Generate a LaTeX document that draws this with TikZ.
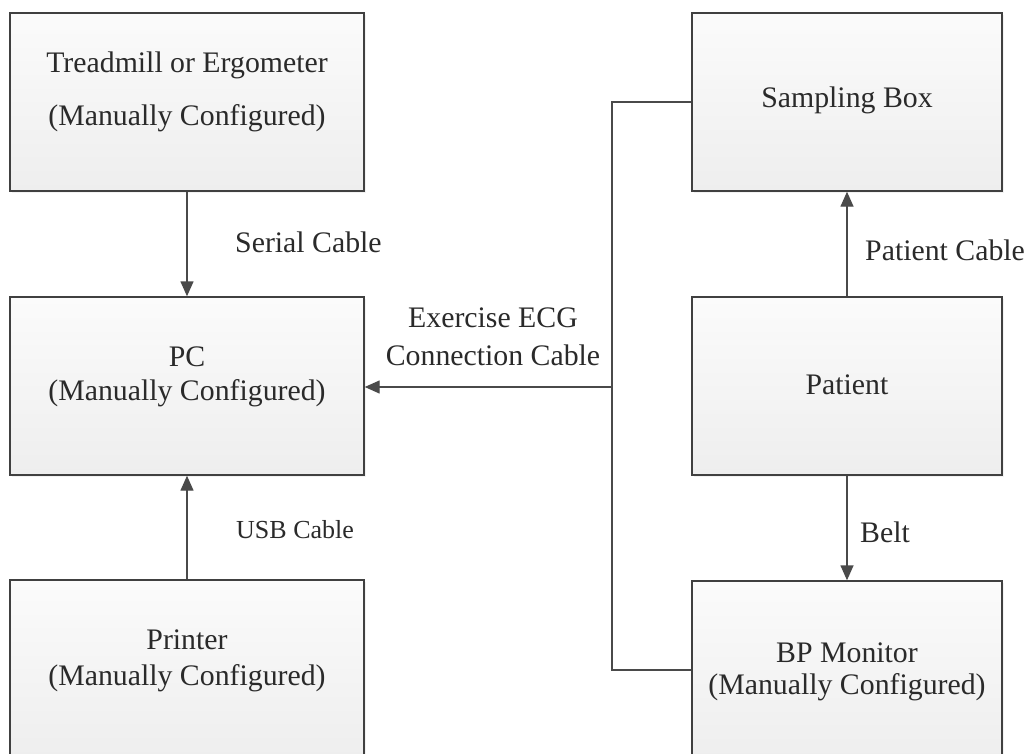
\documentclass[tikz,border=0pt]{standalone}
\usepackage{fontspec}
\setmainfont{Liberation Serif}
\usetikzlibrary{arrows.meta,shadows}
\definecolor{boxline}{HTML}{404040}
\definecolor{linecol}{HTML}{4A4A4A}
\definecolor{boxtop}{HTML}{FBFBFB}
\definecolor{boxbot}{HTML}{EEEEEE}
\definecolor{txtcol}{HTML}{2A2A2A}
\begin{document}
\begin{tikzpicture}[x=1pt,y=-1pt,
  box/.style={draw=boxline, line width=1.4pt, top color=boxtop, bottom color=boxbot,
    minimum width=#1, minimum height=178pt, inner sep=0pt,
    drop shadow={opacity=0.10, shadow xshift=2pt, shadow yshift=-2pt}},
  txt/.style={text=txtcol, font=\fontsize{29.8}{36}\selectfont, align=center, inner sep=0pt},
  smalltxt/.style={text=txtcol, font=\fontsize{26}{31}\selectfont, inner sep=0pt},
  conn/.style={draw=linecol, line width=1.4pt},
  arr/.style={conn, -{Triangle[length=15pt,width=13pt]}}]
\useasboundingbox (0,0) rectangle (1027,754);
\clip (0,0) rectangle (1027,754);

% boxes
\node[box=354pt] (tread) at (187,102) {};
\node[box=354pt] (pc) at (187,386) {};
\node[box=354pt] (printer) at (187,669) {};
\node[box=310pt] (samp) at (847,102) {};
\node[box=310pt] (patient) at (847,386) {};
\node[box=310pt] (bp) at (847,670) {};

% box texts
\node[txt] (treadA) at (187,65) {Treadmill or Ergometer};
\node[txt] (treadB) at (187,118) {(Manually Configured)};
\node[txt] (pcA) at (187,357) {PC};
\node[txt] (pcB) at (187,393) {(Manually Configured)};
\node[txt] (printerA) at (187,640) {Printer};
\node[txt] (printerB) at (187,678) {(Manually Configured)};
\node[txt] (sampA) at (847,100) {Sampling Box};
\node[txt] (patientA) at (847,385) {Patient};
\node[txt] (bpA) at (847,653) {BP Monitor};
\node[txt] (bpB) at (847,687) {(Manually Configured)};

% connectors
\draw[arr] (tread.south) -- (pc.north);
\draw[arr] (printer.north) -- (pc.south);
\draw[arr] (patient.north) -- (samp.south);
\draw[arr] (patient.south) -- (bp.north);

\coordinate (bendtop) at (612,102);
\coordinate (bendbot) at (612,670);
\coordinate (junc) at (612,387);
\draw[conn] (samp.west) -- (bendtop) -- (bendbot) -- (bp.west);
\draw[arr] (junc) -- (pc.east |- junc);

% connector labels
\node[txt, anchor=west] (lserial) at (235,242) {Serial Cable};
\node[txt] (lecgA) at (493,318) {Exercise ECG};
\node[txt] (lecgB) at (493,355) {Connection Cable};
\node[smalltxt, anchor=west] (lusb) at (236,530) {USB Cable};
\node[txt, anchor=west] (lpat) at (865,250) {Patient Cable};
\node[txt, anchor=west] (lbelt) at (860,532) {Belt};
\end{tikzpicture}
\end{document}
